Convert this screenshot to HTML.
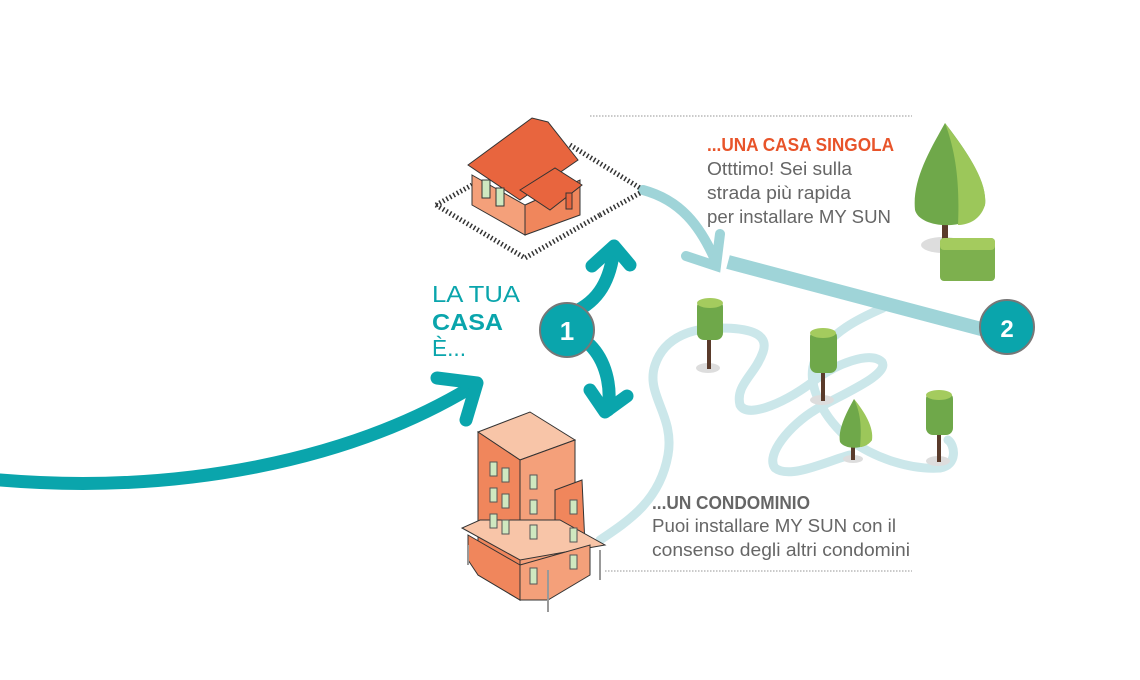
<!DOCTYPE html>
<html><head><meta charset="utf-8"><style>
html,body{margin:0;padding:0;background:#fff}
svg{display:block}
text{font-family:"Liberation Sans Narrow","Liberation Sans",sans-serif}
</style></head><body>
<svg width="1140" height="680" viewBox="0 0 1140 680" xmlns="http://www.w3.org/2000/svg">
<line x1="590" y1="116" x2="912" y2="116" stroke="#aaa" stroke-width="1.2" stroke-dasharray="1.5 1.5"/>
<line x1="605" y1="571" x2="912" y2="571" stroke="#aaa" stroke-width="1.2" stroke-dasharray="1.5 1.5"/>

<g fill="none" stroke="#cbe7ea" stroke-width="9" stroke-linecap="round" stroke-linejoin="round">
<path d="M600,540 C630,520 660,500 668,455 C675,415 645,395 655,365 C665,335 695,328 720,328 C745,328 770,332 763,352 C755,375 735,385 740,405 C748,420 790,400 815,380 C835,365 870,350 882,362 C890,375 840,395 815,410 C790,425 765,455 775,468 C790,480 830,460 850,455"/>
<path d="M883,308 C860,318 830,332 815,360 C805,385 825,420 850,440 C875,458 910,470 940,468 C958,465 955,445 948,440"/>
</g>

<g fill="none" stroke="#9fd4d8" stroke-width="10" stroke-linecap="round">
<path d="M643,190 C680,200 700,225 716,262"/>
<path d="M686,256 L716,266 L720,234"/>
</g>
<line x1="728" y1="262" x2="985" y2="330" stroke="#9fd4d8" stroke-width="14"/>

<g fill="none" stroke="#0aa5ac" stroke-width="13" stroke-linecap="round" stroke-linejoin="round">
<path d="M0,480 C180,495 350,460 470,388"/>
<path d="M437,378 L477,383 L466,420"/>
<path d="M567,315 C595,305 610,285 614,248"/>
<path d="M592,266 L614,246 L630,265"/>
<path d="M590,345 C605,360 612,385 608,410"/>
<path d="M590,390 L605,412 L627,396"/>
</g>
<circle cx="567" cy="330" r="27" fill="#0aa5ac" stroke="#777" stroke-width="2"/>
<text x="567" y="340" font-size="26" font-weight="bold" fill="#fff" text-anchor="middle">1</text>
<circle cx="1007" cy="327" r="27" fill="#0aa5ac" stroke="#777" stroke-width="2"/>
<text x="1007" y="337" font-size="24" font-weight="bold" fill="#fff" text-anchor="middle">2</text>

<text x="432" y="302" font-size="23" fill="#0aa5ac" textLength="88" lengthAdjust="spacingAndGlyphs">LA TUA</text>
<text x="432" y="330" font-size="23" font-weight="bold" fill="#0aa5ac" textLength="71" lengthAdjust="spacingAndGlyphs">CASA</text>
<text x="432" y="356" font-size="23" fill="#0aa5ac" textLength="34" lengthAdjust="spacingAndGlyphs">È...</text>

<text x="707" y="151" font-size="18" font-weight="bold" fill="#e8542a" textLength="187" lengthAdjust="spacingAndGlyphs">...UNA CASA SINGOLA</text>
<text x="707" y="175" font-size="18" fill="#666" textLength="145" lengthAdjust="spacingAndGlyphs">Otttimo! Sei sulla</text>
<text x="707" y="199" font-size="18" fill="#666" textLength="144" lengthAdjust="spacingAndGlyphs">strada più rapida</text>
<text x="707" y="223" font-size="18" fill="#666" textLength="184" lengthAdjust="spacingAndGlyphs">per installare MY SUN</text>
<text x="652" y="509" font-size="18" font-weight="bold" fill="#666" textLength="158" lengthAdjust="spacingAndGlyphs">...UN CONDOMINIO</text>
<text x="652" y="532" font-size="18" fill="#666" textLength="244" lengthAdjust="spacingAndGlyphs">Puoi installare MY SUN con il</text>
<text x="652" y="556" font-size="18" fill="#666" textLength="258" lengthAdjust="spacingAndGlyphs">consenso degli altri condomini</text>

<!-- fence -->
<g fill="none" stroke="#333" stroke-width="5" stroke-dasharray="1.5 2.5">
<path d="M436,205 L525,258 L600,215"/>
<path d="M436,205 L472,185"/>
<path d="M600,215 L640,193"/>
<path d="M570,145 L640,188"/>
</g>
<!-- house -->
<polygon points="472,175 525,205 525,235 472,205" fill="#f4a07a" stroke="#333"/>
<polygon points="525,205 580,180 580,215 525,235" fill="#f0865c" stroke="#333"/>
<polygon points="468,165 532,118 548,122 578,160 520,200" fill="#e8653e" stroke="#333"/>
<polygon points="520,190 555,168 582,185 550,210" fill="#e8653e" stroke="#333"/>
<rect x="482" y="180" width="8" height="18" fill="#cfe8c0" stroke="#333"/>
<rect x="496" y="188" width="8" height="18" fill="#cfe8c0" stroke="#333"/>
<rect x="566" y="193" width="6" height="16" fill="#e8653e" stroke="#333"/>

<!-- building -->
<polygon points="478,432 530,412 575,440 520,460" fill="#f8c5a8" stroke="#333"/>
<polygon points="478,432 520,460 520,600 478,575" fill="#f0865c" stroke="#333"/>
<polygon points="520,460 575,440 575,570 520,600" fill="#f4a07a" stroke="#333"/>
<polygon points="555,490 582,480 585,545 555,560" fill="#f0865c" stroke="#333"/>
<polygon points="462,528 520,560 605,545 560,520 480,520" fill="#f8c5a8" stroke="#333"/>
<polygon points="468,535 520,565 520,600 478,575 468,560" fill="#f0865c" stroke="#333"/>
<polygon points="520,565 590,545 590,575 548,600 520,600" fill="#f4a07a" stroke="#333"/>
<g fill="#cfe8c0" stroke="#555">
<rect x="490" y="462" width="7" height="14"/><rect x="502" y="468" width="7" height="14"/>
<rect x="490" y="488" width="7" height="14"/><rect x="502" y="494" width="7" height="14"/>
<rect x="490" y="514" width="7" height="14"/><rect x="502" y="520" width="7" height="14"/>
<rect x="530" y="475" width="7" height="14"/><rect x="530" y="500" width="7" height="14"/><rect x="530" y="525" width="7" height="14"/>
<rect x="570" y="500" width="7" height="14"/><rect x="570" y="528" width="7" height="14"/>
<rect x="530" y="568" width="7" height="16"/><rect x="570" y="555" width="7" height="14"/>
</g>
<g stroke="#999" stroke-width="2"><line x1="468" y1="545" x2="468" y2="565"/><line x1="600" y1="550" x2="600" y2="580"/><line x1="548" y1="570" x2="548" y2="612"/></g>

<!-- trees -->
<g>
<ellipse cx="943" cy="245" rx="22" ry="8" fill="#ddd"/>
<rect x="942" y="225" width="6" height="20" fill="#5a3b2b"/>
<path d="M945,123 C930,150 912,180 915,210 C920,230 975,232 985,205 C988,180 962,145 945,123Z" fill="#6fa84a"/>
<path d="M945,123 C965,150 988,180 985,205 C980,222 965,225 958,225 C960,180 955,150 945,123Z" fill="#9cc75a"/>
<rect x="940" y="238" width="55" height="43" rx="4" fill="#7db04e"/>
<rect x="940" y="238" width="55" height="12" rx="4" fill="#a4cb5e"/>

<ellipse cx="708" cy="368" rx="12" ry="5" fill="#ddd"/><rect x="707" y="335" width="4" height="34" fill="#5a3b2b"/>
<rect x="697" y="300" width="26" height="40" rx="7" fill="#6fa84a"/><ellipse cx="710" cy="303" rx="13" ry="5" fill="#a4cb5e"/>
<ellipse cx="822" cy="400" rx="12" ry="5" fill="#ddd"/><rect x="821" y="368" width="4" height="33" fill="#5a3b2b"/>
<rect x="810" y="330" width="27" height="43" rx="7" fill="#6fa84a"/><ellipse cx="823" cy="333" rx="13" ry="5" fill="#a4cb5e"/>
<ellipse cx="938" cy="461" rx="12" ry="5" fill="#ddd"/><rect x="937" y="430" width="4" height="32" fill="#5a3b2b"/>
<rect x="926" y="392" width="27" height="43" rx="7" fill="#6fa84a"/><ellipse cx="939" cy="395" rx="13" ry="5" fill="#a4cb5e"/>
<ellipse cx="853" cy="459" rx="10" ry="4" fill="#ddd"/><rect x="851" y="440" width="4" height="20" fill="#5a3b2b"/>
<path d="M854,399 C845,415 838,430 840,442 C845,450 865,450 872,440 C873,425 862,410 854,399Z" fill="#6fa84a"/>
<path d="M854,399 C865,412 874,428 872,440 C868,446 862,447 860,447 C862,425 860,412 854,399Z" fill="#9cc75a"/>
</g>
</svg>
</body></html>
